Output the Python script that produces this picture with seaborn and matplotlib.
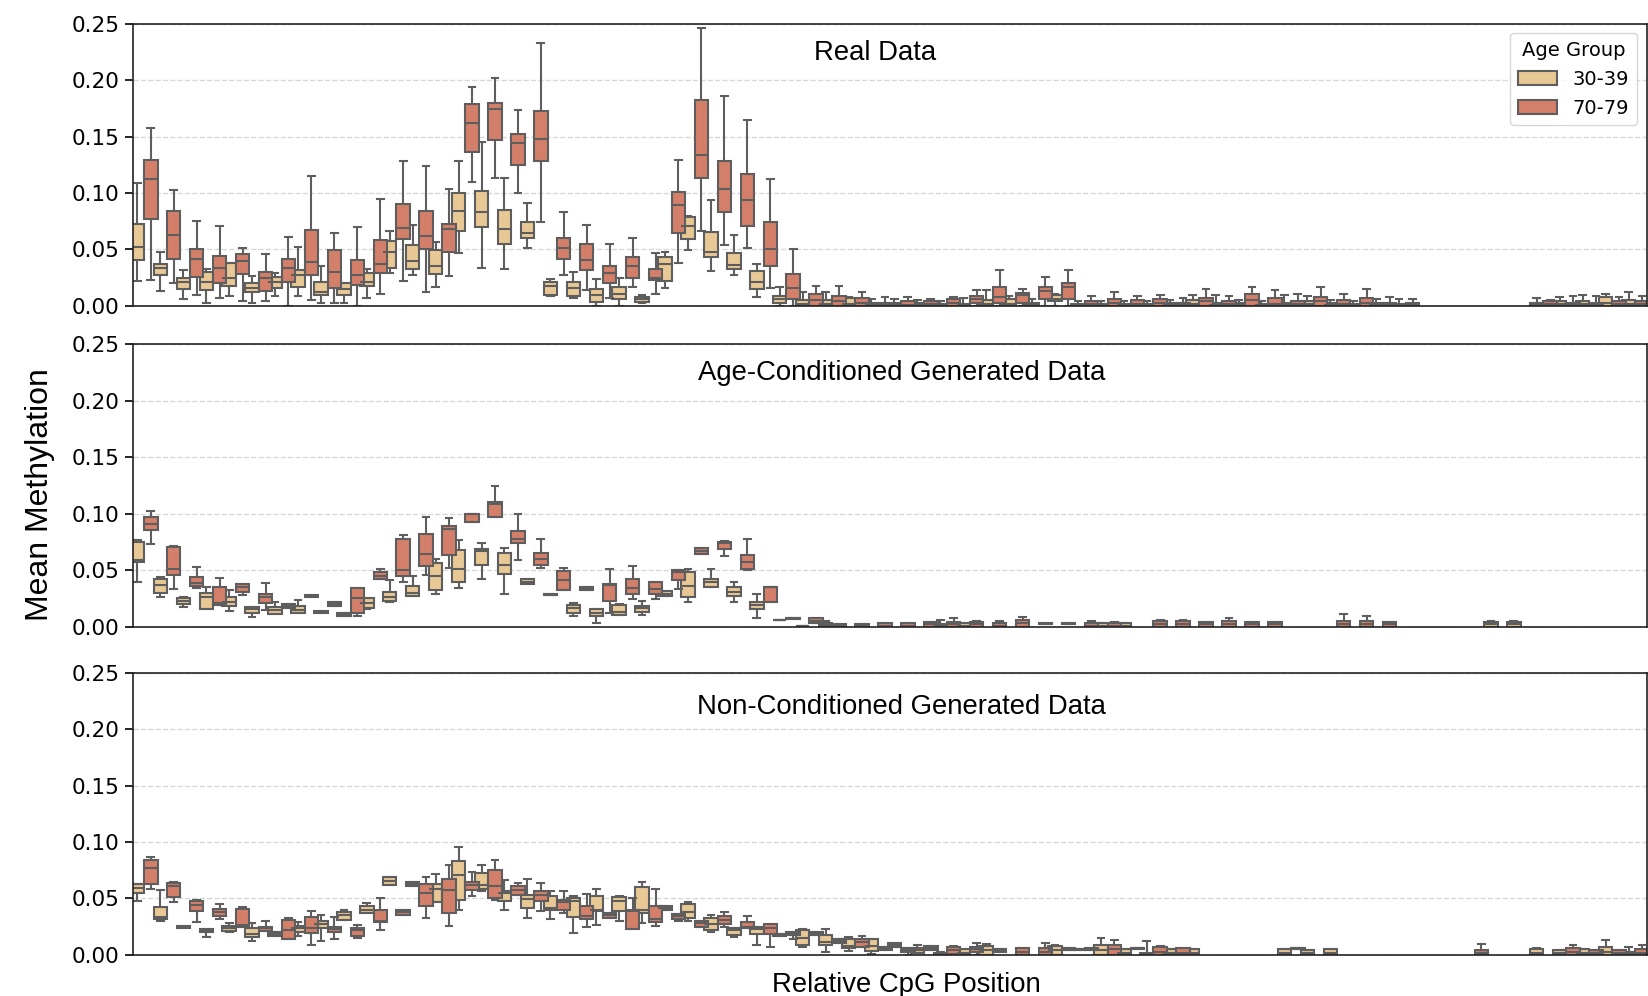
import numpy as np
import pandas as pd
import matplotlib
matplotlib.use("Agg")
import matplotlib.pyplot as plt
import seaborn as sns

N_POS = 66
AGE_GROUPS = ["30-39", "70-79"]
PALETTE = {"30-39": "#E8C894", "70-79": "#D47F6A"}
PANEL_TITLES = ["Real Data", "Age-Conditioned Generated Data", "Non-Conditioned Generated Data"]
Y_TICKS = [0.0, 0.05, 0.10, 0.15, 0.20, 0.25]

# five-number summary per CpG position: (min, q1, median, q3, max), None = no box drawn
REAL_3039 = [
    (0.022, 0.041, 0.0525, 0.073, 0.109), (0.013, 0.027, 0.034, 0.037, 0.048),
    (0.006, 0.015, 0.0215, 0.025, 0.032), (0.003, 0.014, 0.0215, 0.030, 0.033),
    (0.009, 0.018, 0.0245, 0.038, 0.038), (0.003, 0.0127, 0.016, 0.020, 0.0265),
    (0.009, 0.0156, 0.021, 0.026, 0.0295), (0.009, 0.0165, 0.027, 0.032, 0.052),
    (0.003, 0.0097, 0.0127, 0.0215, 0.035), (0.003, 0.0097, 0.0147, 0.020, 0.0206),
    (0.007, 0.018, 0.021, 0.0295, 0.033), (0.029, 0.034, 0.048, 0.0575, 0.066),
    (0.027, 0.033, 0.040, 0.054, 0.072), (0.017, 0.028, 0.035, 0.0496, 0.057),
    (0.047, 0.0667, 0.084, 0.0997, 0.128), (0.034, 0.0696, 0.0835, 0.102, 0.145),
    (0.0324, 0.055, 0.068, 0.085, 0.1136), (0.051, 0.0605, 0.065, 0.074, 0.091),
    (0.009, 0.0097, 0.0177, 0.0215, 0.024), (0.007, 0.009, 0.0156, 0.0215, 0.030),
    (0.0, 0.0038, 0.0097, 0.0147, 0.024), (0.0, 0.006, 0.0103, 0.0165, 0.025),
    (0.003, 0.0038, 0.006, 0.008, 0.0097), (0.016, 0.022, 0.037, 0.043, 0.0475),
    (0.0496, 0.059, 0.071, 0.079, 0.0796), (0.031, 0.0437, 0.0475, 0.0658, 0.094),
    (0.0274, 0.033, 0.036, 0.0466, 0.063), (0.008, 0.0147, 0.0215, 0.031, 0.037),
    (0.0, 0.003, 0.006, 0.009, 0.017), (0.0, 0.0, 0.002, 0.0053, 0.0127),
    (0.0, 0.0, 0.002, 0.005, 0.0127), (0.0, 0.0, 0.002, 0.007, 0.008),
    (0.0, 0.0, 0.001, 0.003, 0.006), (0.0, 0.0, 0.001, 0.003, 0.006),
    (0.0, 0.0, 0.001, 0.003, 0.005), (0.0, 0.0, 0.001, 0.002, 0.004),
    (0.0, 0.0, 0.001, 0.002, 0.007), (0.0, 0.0, 0.002, 0.005, 0.014),
    (0.0, 0.0, 0.002, 0.006, 0.009), (0.0, 0.0, 0.001, 0.003, 0.006),
    (0.0, 0.0044, 0.006, 0.0097, 0.0106), (0.0, 0.0, 0.001, 0.002, 0.004),
    (0.0, 0.0, 0.001, 0.002, 0.004), (0.0, 0.0, 0.001, 0.002, 0.004),
    (0.0, 0.0, 0.001, 0.002, 0.004), (0.0, 0.0, 0.001, 0.003, 0.005),
    (0.0, 0.0, 0.002, 0.005, 0.0097), (0.0, 0.0, 0.001, 0.003, 0.0097),
    (0.0, 0.0, 0.001, 0.003, 0.005), (0.0, 0.0, 0.001, 0.002, 0.004),
    (0.0, 0.0, 0.001, 0.003, 0.0097), (0.0, 0.0, 0.002, 0.0044, 0.009),
    (0.0, 0.0, 0.001, 0.003, 0.005), (0.0, 0.0, 0.001, 0.002, 0.004),
    (0.0, 0.0, 0.001, 0.003, 0.006), (0.0, 0.0, 0.001, 0.002, 0.006),
    None, None, None, None, None,
    (0.0, 0.0, 0.001, 0.003, 0.007), (0.0, 0.0, 0.002, 0.004, 0.008),
    (0.0, 0.0, 0.002, 0.0047, 0.0097), (0.0, 0.0, 0.003, 0.0077, 0.011),
    (0.0, 0.0, 0.002, 0.005, 0.012),
]

REAL_7079 = [
    (0.023, 0.077, 0.112, 0.129, 0.158), (0.020, 0.042, 0.063, 0.084, 0.103),
    (0.010, 0.026, 0.042, 0.050, 0.075), (0.007, 0.020, 0.034, 0.0445, 0.071),
    (0.004, 0.028, 0.040, 0.046, 0.051), (0.004, 0.013, 0.025, 0.030, 0.046),
    (0.0, 0.021, 0.034, 0.042, 0.061), (0.005, 0.027, 0.039, 0.067, 0.115),
    (0.003, 0.016, 0.030, 0.0496, 0.065), (0.0, 0.019, 0.027, 0.041, 0.070),
    (0.011, 0.029, 0.037, 0.058, 0.095), (0.022, 0.059, 0.069, 0.090, 0.128),
    (0.012, 0.050, 0.062, 0.084, 0.124), (0.0265, 0.048, 0.068, 0.073, 0.1035),
    (0.110, 0.136, 0.162, 0.179, 0.1935), (0.1136, 0.147, 0.174, 0.180, 0.202),
    (0.0997, 0.125, 0.1445, 0.152, 0.1735), (0.0746, 0.128, 0.148, 0.173, 0.233),
    (0.0274, 0.0416, 0.051, 0.060, 0.083), (0.014, 0.032, 0.041, 0.055, 0.072),
    (0.0074, 0.0206, 0.029, 0.035, 0.0546), (0.017, 0.0245, 0.0357, 0.043, 0.060),
    (0.0106, 0.023, 0.0245, 0.033, 0.0466), (0.038, 0.065, 0.089, 0.101, 0.129),
    (0.0667, 0.1136, 0.134, 0.182, 0.2457), (0.054, 0.083, 0.104, 0.128, 0.186),
    (0.051, 0.071, 0.094, 0.1165, 0.1646), (0.0156, 0.0357, 0.050, 0.074, 0.112),
    (0.0, 0.006, 0.0156, 0.028, 0.050), (0.0, 0.0, 0.005, 0.011, 0.0177),
    (0.0, 0.0, 0.004, 0.009, 0.018), (0.0, 0.0, 0.003, 0.007, 0.0127),
    (0.0, 0.0, 0.001, 0.003, 0.008), (0.0, 0.0, 0.001, 0.004, 0.008),
    (0.0, 0.0, 0.002, 0.0044, 0.006), (0.0, 0.0, 0.003, 0.006, 0.008),
    (0.0, 0.003, 0.006, 0.009, 0.014), (0.0, 0.003, 0.008, 0.017, 0.032),
    (0.0, 0.003, 0.0097, 0.0118, 0.0147), (0.0, 0.006, 0.0136, 0.017, 0.026),
    (0.0, 0.006, 0.017, 0.020, 0.032), (0.0, 0.0, 0.002, 0.004, 0.009),
    (0.0, 0.0, 0.003, 0.006, 0.012), (0.0, 0.0, 0.002, 0.005, 0.009),
    (0.0, 0.0, 0.003, 0.006, 0.0097), (0.0, 0.0, 0.001, 0.003, 0.007),
    (0.0, 0.0, 0.004, 0.007, 0.0147), (0.0, 0.0, 0.002, 0.004, 0.009),
    (0.0, 0.0, 0.005, 0.011, 0.017), (0.0, 0.0, 0.002, 0.007, 0.014),
    (0.0, 0.0, 0.002, 0.004, 0.0106), (0.0, 0.0, 0.004, 0.0077, 0.017),
    (0.0, 0.0, 0.002, 0.005, 0.0106), (0.0, 0.0, 0.003, 0.007, 0.0147),
    (0.0, 0.0, 0.001, 0.003, 0.008), (0.0, 0.0, 0.001, 0.003, 0.006),
    None, None, None, None, None,
    (0.0, 0.0, 0.002, 0.004, 0.005), (0.0, 0.0, 0.001, 0.003, 0.009),
    (0.0, 0.0, 0.001, 0.003, 0.009), (0.0, 0.0, 0.002, 0.004, 0.008),
    (0.0, 0.0, 0.002, 0.004, 0.009),
]

AGE_3039 = [
    (0.040, 0.057, 0.059, 0.0746, 0.077), (0.0265, 0.030, 0.037, 0.042, 0.0437),
    (0.0177, 0.0198, 0.0227, 0.025, 0.0265), (0.0153, 0.0153, 0.026, 0.0295, 0.035),
    (0.014, 0.018, 0.022, 0.026, 0.0324), (0.0088, 0.0124, 0.0153, 0.0177, 0.0177),
    (0.011, 0.011, 0.0147, 0.0177, 0.022), (0.0118, 0.0124, 0.0147, 0.0183, 0.024),
    (0.0118, 0.0118, 0.0127, 0.0139, 0.0139), (0.0094, 0.0094, 0.011, 0.0124, 0.0124),
    (0.0153, 0.0162, 0.0212, 0.025, 0.025), (0.022, 0.0227, 0.026, 0.031, 0.0413),
    (0.0274, 0.0274, 0.0295, 0.0363, 0.0448), (0.0286, 0.0324, 0.0448, 0.056, 0.060),
    (0.0345, 0.040, 0.0507, 0.0678, 0.0767), (0.0419, 0.0546, 0.0673, 0.0687, 0.0743),
    (0.0289, 0.047, 0.0546, 0.0649, 0.070), (0.0375, 0.0375, 0.040, 0.0422, 0.0422),
    (0.0278, 0.0278, 0.0283, 0.0288, 0.0288), (0.0094, 0.0124, 0.0162, 0.019, 0.0206),
    (0.003, 0.0097, 0.0124, 0.0153, 0.0153), (0.0103, 0.0103, 0.0133, 0.019, 0.0198),
    (0.0103, 0.0133, 0.0162, 0.0186, 0.023), (0.0274, 0.0274, 0.029, 0.0319, 0.0319),
    (0.022, 0.0265, 0.036, 0.048, 0.0507), (0.0354, 0.0354, 0.040, 0.0419, 0.0507),
    (0.0215, 0.0274, 0.031, 0.0348, 0.040), (0.008, 0.0156, 0.019, 0.0215, 0.0286),
    (0.0055, 0.0057, 0.0059, 0.0061, 0.0063), (0.0004, 0.0005, 0.0006, 0.0008, 0.001),
    (0.0, 0.0, 0.0015, 0.003, 0.0053), None,
    None, None,
    None, (0.0, 0.0, 0.001, 0.002, 0.006),
    (0.0, 0.0, 0.001, 0.003, 0.003), None,
    None, None,
    None, None,
    (0.0, 0.0, 0.001, 0.003, 0.003), (0.0, 0.0, 0.001, 0.003, 0.003),
    None, None, None, None, None, None, None, None, None, None, None, None, None, None, None,
    (0.0, 0.0, 0.002, 0.004, 0.005), (0.0, 0.0, 0.002, 0.004, 0.005),
    None, None, None, None, None,
]

AGE_7079 = [
    (0.073, 0.0855, 0.091, 0.097, 0.1027), (0.033, 0.046, 0.051, 0.0708, 0.071),
    (0.0345, 0.036, 0.039, 0.044, 0.0525), (0.019, 0.019, 0.021, 0.0348, 0.043),
    (0.028, 0.031, 0.0354, 0.0378, 0.0378), (0.0147, 0.0206, 0.0265, 0.0286, 0.039),
    (0.0168, 0.0168, 0.0183, 0.020, 0.020), (0.026, 0.026, 0.027, 0.028, 0.028),
    (0.0186, 0.0186, 0.020, 0.0215, 0.0215), (0.0094, 0.0124, 0.0257, 0.0345, 0.0345),
    (0.042, 0.042, 0.0448, 0.048, 0.0507), (0.040, 0.0448, 0.050, 0.0776, 0.081),
    (0.0457, 0.054, 0.0643, 0.082, 0.0973), (0.0516, 0.0634, 0.0864, 0.0894, 0.0965),
    (0.093, 0.093, 0.0997, 0.100, 0.100), (0.0968, 0.0968, 0.109, 0.1106, 0.1245),
    (0.059, 0.0737, 0.0773, 0.0847, 0.0994), (0.052, 0.0546, 0.0596, 0.0655, 0.0776),
    (0.0324, 0.0324, 0.0413, 0.049, 0.052), (0.0324, 0.0324, 0.034, 0.0354, 0.0354),
    (0.0124, 0.023, 0.0369, 0.0378, 0.0507), (0.0245, 0.0289, 0.0345, 0.0419, 0.054),
    (0.0245, 0.0289, 0.033, 0.040, 0.040), (0.033, 0.0413, 0.0487, 0.050, 0.050),
    (0.064, 0.064, 0.067, 0.0693, 0.0693), (0.0628, 0.0687, 0.0737, 0.0752, 0.0761),
    (0.050, 0.051, 0.0575, 0.0634, 0.0773), (0.022, 0.022, 0.0348, 0.0354, 0.0354),
    (0.0068, 0.007, 0.0073, 0.0076, 0.0078), (0.0035, 0.0035, 0.005, 0.008, 0.008),
    (0.0, 0.0, 0.001, 0.0024, 0.0024), (0.0, 0.0, 0.001, 0.0024, 0.0024),
    (0.0, 0.0, 0.001, 0.003, 0.003), (0.0, 0.0, 0.001, 0.003, 0.003),
    (0.0, 0.0, 0.002, 0.0038, 0.0038), (0.0, 0.0, 0.002, 0.004, 0.008),
    (0.0, 0.0, 0.002, 0.004, 0.005), (0.0, 0.0, 0.001, 0.003, 0.005),
    (0.0, 0.0, 0.003, 0.006, 0.009), (0.002, 0.002, 0.0025, 0.003, 0.003),
    (0.002, 0.002, 0.0025, 0.003, 0.003), (0.0, 0.0, 0.001, 0.003, 0.005),
    (0.0, 0.0, 0.001, 0.003, 0.004), None,
    (0.0, 0.0, 0.002, 0.005, 0.006), (0.0, 0.0, 0.002, 0.005, 0.006),
    (0.0, 0.0, 0.002, 0.004, 0.004), (0.0, 0.0, 0.002, 0.005, 0.0075),
    (0.0, 0.0, 0.002, 0.004, 0.004), (0.0, 0.0, 0.002, 0.004, 0.004),
    None, None,
    (0.0, 0.0, 0.002, 0.005, 0.0115), (0.0, 0.0, 0.002, 0.005, 0.0095),
    (0.0, 0.0, 0.002, 0.004, 0.004),
    None, None, None, None, None, None, None, None, None, None, None,
]

NONC_3039 = [
    (0.048, 0.0553, 0.0597, 0.0632, 0.0632), (0.030, 0.0318, 0.0332, 0.0426, 0.0574),
    (0.0235, 0.0235, 0.0245, 0.0256, 0.0256), (0.016, 0.020, 0.0215, 0.0229, 0.0229),
    (0.0206, 0.0212, 0.0241, 0.0256, 0.028), (0.0124, 0.0156, 0.0182, 0.0235, 0.028),
    (0.017, 0.017, 0.0185, 0.020, 0.020), (0.0168, 0.0206, 0.024, 0.0256, 0.0294),
    (0.0124, 0.024, 0.027, 0.0303, 0.0353), (0.031, 0.031, 0.0353, 0.038, 0.040),
    (0.0368, 0.0368, 0.040, 0.0432, 0.046), (0.0618, 0.0618, 0.0656, 0.069, 0.069),
    (0.0612, 0.0612, 0.0632, 0.0647, 0.0647), (0.047, 0.047, 0.0588, 0.0632, 0.072),
    (0.0397, 0.0485, 0.0706, 0.083, 0.0956), (0.0565, 0.0588, 0.0618, 0.073, 0.080),
    (0.0397, 0.0476, 0.0553, 0.0565, 0.066), (0.0324, 0.042, 0.0494, 0.053, 0.0676),
    (0.0315, 0.040, 0.042, 0.052, 0.057), (0.0197, 0.034, 0.0476, 0.050, 0.052),
    (0.0265, 0.0388, 0.040, 0.052, 0.0588), (0.030, 0.0388, 0.048, 0.0515, 0.052),
    (0.028, 0.0368, 0.0397, 0.060, 0.0647), (0.040, 0.040, 0.042, 0.0435, 0.0435),
    (0.030, 0.0324, 0.038, 0.045, 0.047), (0.020, 0.022, 0.0274, 0.0324, 0.035),
    (0.016, 0.018, 0.022, 0.0235, 0.0235), (0.0088, 0.0185, 0.0226, 0.025, 0.025),
    (0.0168, 0.0168, 0.018, 0.019, 0.019), (0.0068, 0.0088, 0.0147, 0.022, 0.023),
    (0.003, 0.0088, 0.0118, 0.018, 0.023), (0.0035, 0.0059, 0.008, 0.0138, 0.0156),
    (0.001, 0.0035, 0.0082, 0.0138, 0.0138), (0.0068, 0.0068, 0.009, 0.011, 0.011),
    (0.002, 0.002, 0.004, 0.006, 0.0088), (0.0, 0.0, 0.001, 0.002, 0.003),
    (0.0, 0.0, 0.002, 0.005, 0.005), (0.0, 0.0, 0.004, 0.008, 0.010),
    None, None,
    (0.0, 0.0, 0.004, 0.008, 0.009), (0.004, 0.004, 0.005, 0.005, 0.005),
    (0.0, 0.0, 0.004, 0.009, 0.015), (0.0, 0.0, 0.002, 0.005, 0.005),
    (0.0, 0.0, 0.001, 0.002, 0.012), (0.0, 0.0, 0.002, 0.005, 0.005),
    (0.0, 0.0, 0.002, 0.005, 0.005),
    None, None, None,
    (0.0, 0.0, 0.002, 0.005, 0.005), (0.0, 0.0, 0.002, 0.004, 0.004),
    (0.0, 0.0, 0.002, 0.005, 0.005),
    None, None, None, None, None, None, None, None,
    (0.0, 0.0, 0.002, 0.005, 0.006), (0.0, 0.0, 0.002, 0.004, 0.004),
    (0.0, 0.0, 0.002, 0.005, 0.005), (0.0, 0.0, 0.003, 0.007, 0.013),
    (0.0, 0.0, 0.001, 0.003, 0.007),
]

NONC_7079 = [
    (0.0588, 0.0624, 0.0774, 0.0838, 0.0868), (0.0465, 0.0515, 0.0609, 0.0638, 0.0647),
    (0.0294, 0.039, 0.044, 0.0476, 0.049), (0.0315, 0.0344, 0.038, 0.0406, 0.045),
    (0.025, 0.025, 0.0265, 0.0406, 0.0426), (0.0215, 0.0215, 0.0235, 0.025, 0.0303),
    (0.0138, 0.0138, 0.022, 0.0309, 0.0324), (0.0088, 0.0197, 0.024, 0.0338, 0.039),
    (0.014, 0.0206, 0.0226, 0.025, 0.0338), (0.0153, 0.0168, 0.022, 0.024, 0.0265),
    (0.022, 0.0288, 0.030, 0.040, 0.050), (0.0353, 0.0353, 0.038, 0.0397, 0.0397),
    (0.033, 0.0432, 0.055, 0.0624, 0.069), (0.0259, 0.0373, 0.0574, 0.0676, 0.080),
    (0.052, 0.0574, 0.0618, 0.0647, 0.0735), (0.049, 0.050, 0.0609, 0.0756, 0.0838),
    (0.053, 0.053, 0.0574, 0.0609, 0.0638), (0.039, 0.048, 0.0535, 0.0565, 0.0638),
    (0.037, 0.040, 0.047, 0.049, 0.0568), (0.0244, 0.0315, 0.0344, 0.0432, 0.054),
    (0.033, 0.033, 0.035, 0.0373, 0.0373), (0.0226, 0.0226, 0.0388, 0.0397, 0.0506),
    (0.0256, 0.0288, 0.0315, 0.0432, 0.0588), (0.030, 0.032, 0.0344, 0.036, 0.036),
    (0.025, 0.025, 0.028, 0.030, 0.030), (0.025, 0.027, 0.031, 0.0344, 0.038),
    (0.0235, 0.0235, 0.025, 0.0288, 0.0344), (0.0068, 0.019, 0.024, 0.027, 0.027),
    (0.0138, 0.0176, 0.019, 0.0206, 0.0206), (0.018, 0.018, 0.019, 0.020, 0.020),
    (0.011, 0.011, 0.0125, 0.014, 0.014), (0.0074, 0.0074, 0.0118, 0.014, 0.0168),
    (0.0044, 0.0044, 0.006, 0.0074, 0.0074), (0.0, 0.003, 0.0045, 0.006, 0.006),
    (0.004, 0.004, 0.006, 0.008, 0.008), (0.0, 0.001, 0.004, 0.007, 0.008),
    (0.0, 0.0025, 0.005, 0.007, 0.011), (0.003, 0.003, 0.004, 0.005, 0.005),
    (0.0, 0.0, 0.003, 0.0064, 0.0064), (0.0, 0.0, 0.003, 0.0064, 0.011),
    (0.004, 0.004, 0.005, 0.006, 0.006), (0.004, 0.004, 0.005, 0.006, 0.006),
    (0.0, 0.0, 0.005, 0.0087, 0.013), (0.005, 0.005, 0.006, 0.006, 0.006),
    (0.0, 0.0, 0.003, 0.007, 0.008), (0.0, 0.0, 0.002, 0.006, 0.006),
    None, None, None, None,
    (0.005, 0.005, 0.006, 0.006, 0.006),
    None, None, None, None, None, None, None,
    (0.0, 0.0, 0.002, 0.004, 0.010),
    None, None, None,
    (0.0, 0.0, 0.003, 0.006, 0.009), (0.0, 0.0, 0.002, 0.004, 0.004),
    (0.0, 0.0, 0.002, 0.004, 0.004), (0.0, 0.0, 0.002, 0.005, 0.009),
]

PANEL_DATA = [(REAL_3039, REAL_7079), (AGE_3039, AGE_7079), (NONC_3039, NONC_7079)]


def to_long(young, old):
    rows = []
    for group, boxes in zip(AGE_GROUPS, (young, old)):
        for pos, box in enumerate(boxes):
            if box is None:
                continue
            for v in box:
                rows.append({"pos": pos, "Age Group": group, "value": v})
    return pd.DataFrame(rows)


plt.rcParams["font.family"] = ["DejaVu Sans"]
label_font = ["Liberation Sans", "DejaVu Sans"]

fig = plt.figure(figsize=(16.48, 9.96), dpi=100)
left, width, height = 0.0805, 0.9187, 0.2835
bottoms = [0.6928, 0.3708, 0.0412]
title_pos = [(0.4906, 0.895), (0.508, 0.90), (0.508, 0.878)]

for i, (young, old) in enumerate(PANEL_DATA):
    ax = fig.add_axes([left, bottoms[i], width, height])
    df = to_long(young, old)
    sns.boxplot(
        data=df, x="pos", y="value", hue="Age Group",
        order=list(range(N_POS)), hue_order=AGE_GROUPS,
        palette=PALETTE, saturation=1, width=1.17, gap=0,
        whis=(0, 100), showfliers=False,
        linecolor="#5e5e5e", linewidth=1.5,
        legend=(i == 0), ax=ax,
    )
    ax.set_xlim(-0.5, N_POS - 0.5)
    ax.set_ylim(0, 0.25)
    ax.set_yticks(Y_TICKS)
    ax.set_xticks([])
    ax.set_xlabel("")
    ax.set_ylabel("")
    ax.set_axisbelow(True)
    ax.yaxis.grid(True, linestyle="--", color="#d8d8d8", linewidth=1)
    ax.tick_params(axis="y", labelsize=15.5, length=6, width=1.2)
    for s in ax.spines.values():
        s.set_linewidth(1.2)
        s.set_color("#222222")
    tx, ty = title_pos[i]
    ax.text(tx, ty, PANEL_TITLES[i], transform=ax.transAxes, ha="center", va="center",
            fontsize=19.8, family=label_font)
    if i == 0:
        sns.move_legend(ax, "upper right", title="Age Group", fontsize=14, title_fontsize=14)

fig.text(0.0245, 0.503, "Mean Methylation", rotation=90, ha="center", va="center",
         fontsize=23, family=label_font)
fig.text(0.5502, 0.0241, "Relative CpG Position", ha="center", va="top",
         fontsize=19.8, family=label_font)

fig.savefig("out.png", dpi=100)
